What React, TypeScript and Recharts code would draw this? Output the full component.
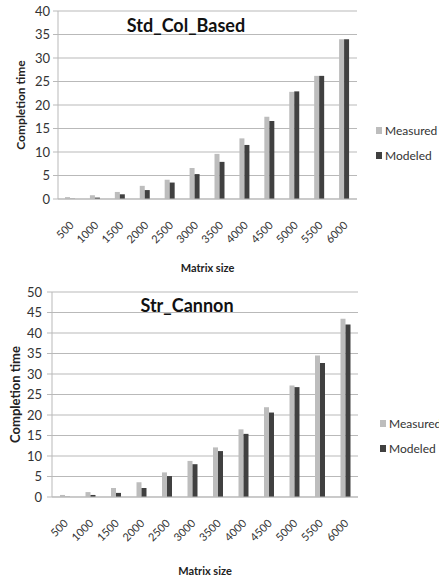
import React from 'react';
import { BarChart, Bar, XAxis, YAxis, CartesianGrid, Legend, Label } from 'recharts';

const sizes = ['500', '1000', '1500', '2000', '2500', '3000', '3500', '4000', '4500', '5000', '5500', '6000'];
const colMeasured = [0.4, 0.8, 1.5, 2.8, 4.1, 6.6, 9.6, 12.9, 17.5, 22.8, 26.2, 34.0];
const colModeled = [0.05, 0.3, 1.0, 1.9, 3.5, 5.3, 7.9, 11.5, 16.6, 22.9, 26.2, 34.0];
const cannonMeasured = [0.5, 1.2, 2.2, 3.6, 6.0, 8.8, 12.1, 16.5, 21.9, 27.2, 34.5, 43.5];
const cannonModeled = [0.05, 0.5, 1.0, 2.2, 5.1, 8.0, 11.2, 15.4, 20.6, 26.8, 32.7, 42.1];
const colTicks = [0, 5, 10, 15, 20, 25, 30, 35, 40];
const cannonTicks = [0, 5, 10, 15, 20, 25, 30, 35, 40, 45, 50];

const FONT = 'Lato, "Open Sans", sans-serif';
const MEASURED_COLOR = '#bdbdbd';
const MODELED_COLOR = '#404040';
const GRID = '#b9b9b9';

const colData = sizes.map((s, i) => ({ size: s, measured: colMeasured[i], modeled: colModeled[i] }));
const cannonData = sizes.map((s, i) => ({ size: s, measured: cannonMeasured[i], modeled: cannonModeled[i] }));

const XTick = (props: any) => {
  const { x, y, payload } = props;
  const ex = x + 4;
  const ey = y + 19;
  return (
    <text x={ex} y={ey} textAnchor="end" fontSize={11} fontFamily={FONT} fill="#333"
      transform={`rotate(-45 ${ex} ${ey})`}>{payload.value}</text>
  );
};

const LegendContent = () => (
  <div style={{ fontFamily: FONT, fontSize: 12, color: '#333' }}>
    {[{ n: 'Measured', c: MEASURED_COLOR }, { n: 'Modeled', c: MODELED_COLOR }].map((it, i) => (
      <div key={it.n} style={{ display: 'flex', alignItems: 'center', height: 13, marginBottom: i === 0 ? 12 : 0, whiteSpace: 'nowrap' }}>
        <span style={{ display: 'inline-block', width: 6, height: 7, background: it.c, marginRight: 3 }} />
        <span>{it.n}</span>
      </div>
    ))}
  </div>
);

type PanelProps = {
  data: any[];
  ticks: number[];
  max: number;
  title: string;
  titleX: number;
  height: number;
  top: number;
  marginTop: number;
  marginRight: number;
  yWidth: number;
  xHeight: number;
  tickFont: number;
  tickMargin: number;
  labelFont: number;
  yLabelX: number;
  xLabelDy: number;
  legendLeft: number;
  legendTop: number;
  titleY: number;
};

const Panel = (p: PanelProps) => (
  <div style={{ position: 'absolute', left: 0, top: p.top }}>
    <BarChart width={439} height={p.height} data={p.data}
      margin={{ top: p.marginTop, right: p.marginRight, left: 0, bottom: 0 }}
      barGap={0} barSize={5}>
      <CartesianGrid vertical={false} stroke={GRID} strokeWidth={1} />
      <XAxis dataKey="size" height={p.xHeight} interval={0} tickLine={false}
        axisLine={{ stroke: GRID }} tick={<XTick />}>
        <Label content={(lp: any) => {
          const vb = lp.viewBox;
          return (
            <text x={vb.x + vb.width / 2} y={vb.y + p.xLabelDy} textAnchor="middle"
              fontFamily={FONT} fontWeight="bold" fontSize={11} fill="#222">Matrix size</text>
          );
        }} />
      </XAxis>
      <YAxis width={p.yWidth} domain={[0, p.max]} ticks={p.ticks} interval={0}
        tickSize={5} tickMargin={p.tickMargin}
        tickLine={{ stroke: GRID }} axisLine={{ stroke: GRID }}
        tick={{ fontSize: p.tickFont, fontFamily: FONT, fill: '#333' }}>
        <Label content={(lp: any) => {
          const vb = lp.viewBox;
          const cy = vb.y + vb.height / 2;
          return (
            <text x={p.yLabelX} y={cy} textAnchor="middle" dominantBaseline="central"
              transform={`rotate(-90 ${p.yLabelX} ${cy})`}
              fontFamily={FONT} fontWeight="bold" fontSize={p.labelFont} fill="#222">Completion time</text>
          );
        }} />
      </YAxis>
      <YAxis yAxisId="frame" orientation="right" width={0} domain={[0, 1]} tick={false}
        tickLine={false} axisLine={{ stroke: GRID }} />
      <Legend layout="vertical" align="center" verticalAlign="middle"
        wrapperStyle={{ left: p.legendLeft, top: p.legendTop, width: 80 }}
        content={<LegendContent />} />
      <Bar dataKey="measured" name="Measured" fill={MEASURED_COLOR} isAnimationActive={false} />
      <Bar dataKey="modeled" name="Modeled" fill={MODELED_COLOR} isAnimationActive={false} />
      <text x={p.titleX} y={p.titleY} textAnchor="middle" fontFamily={FONT} fontWeight="bold"
        fontSize={18} fill="#111">{p.title}</text>
    </BarChart>
  </div>
);

export default function App() {
  return (
    <div style={{ position: 'absolute', left: 0, top: 0, width: 439, height: 577, background: '#fff' }}>
      <Panel data={colData} ticks={colTicks} max={40} title="Std_Col_Based" titleX={186} titleY={32}
        height={290} top={0} marginTop={11} marginRight={82} yWidth={58} xHeight={91}
        tickFont={13} tickMargin={3} labelFont={12} yLabelX={20} xLabelDy={73}
        legendLeft={376} legendTop={124} />
      <Panel data={cannonData} ticks={cannonTicks} max={50} title="Str_Cannon" titleX={187} titleY={32}
        height={297} top={280} marginTop={12} marginRight={81} yWidth={52} xHeight={80}
        tickFont={13} tickMargin={5} labelFont={13} yLabelX={15} xLabelDy={78}
        legendLeft={380} legendTop={137} />
    </div>
  );
}
